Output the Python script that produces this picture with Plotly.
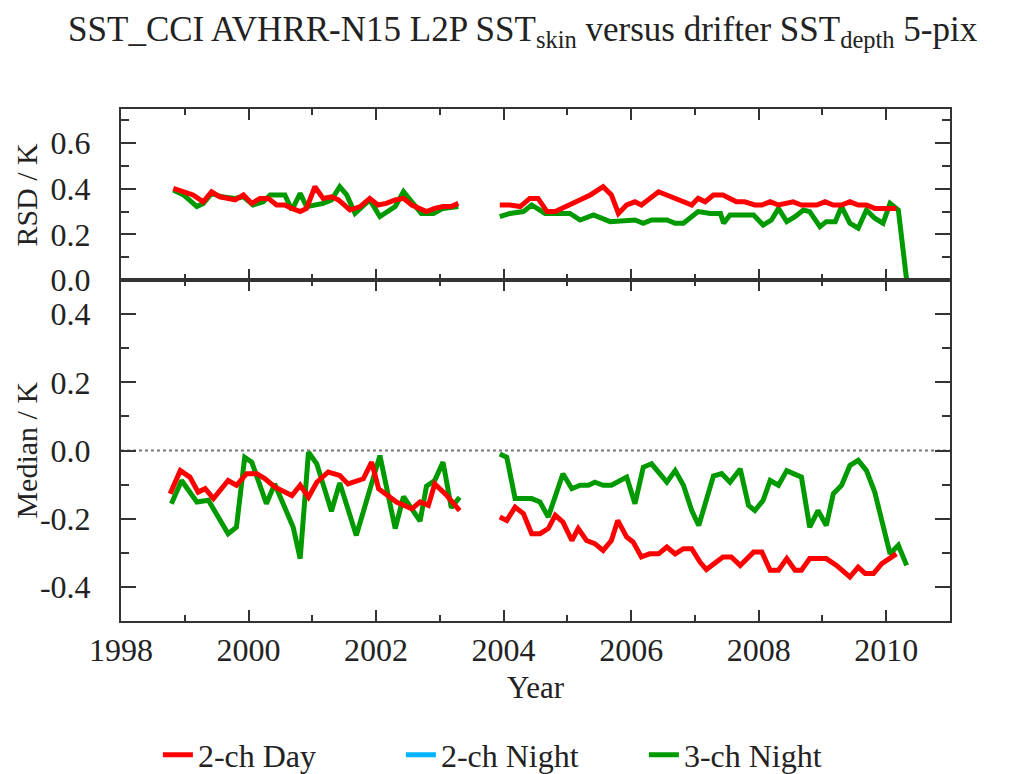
import plotly.graph_objects as go
from plotly.subplots import make_subplots

# ---- RSD (top panel), decimal year vs K ----
rsd_day_1_t = [1998.82, 1998.98, 1999.13, 1999.29, 1999.42, 1999.55, 1999.79, 1999.92, 2000.05, 2000.18,
               2000.31, 2000.44, 2000.57, 2000.68, 2000.81, 2000.91, 2001.04, 2001.17, 2001.30, 2001.41,
               2001.59, 2001.75, 2001.90, 2002.03, 2002.16, 2002.30, 2002.43, 2002.56, 2002.79, 2002.92,
               2003.05, 2003.18, 2003.29]
rsd_day_1_v = [0.402, 0.387, 0.373, 0.343, 0.387, 0.365, 0.351, 0.373, 0.336, 0.358,
               0.358, 0.329, 0.329, 0.314, 0.300, 0.314, 0.409, 0.358, 0.365, 0.351,
               0.307, 0.322, 0.358, 0.329, 0.336, 0.351, 0.358, 0.329, 0.300, 0.314,
               0.322, 0.322, 0.336]
rsd_day_2_t = [2003.94, 2004.10, 2004.26, 2004.41, 2004.54, 2004.68, 2004.81, 2005.09, 2005.36, 2005.56,
               2005.69, 2005.80, 2005.93, 2006.06, 2006.16, 2006.43, 2006.95, 2007.05, 2007.16, 2007.29,
               2007.44, 2007.65, 2007.78, 2007.94, 2008.05, 2008.18, 2008.31, 2008.54, 2008.67, 2008.91,
               2009.04, 2009.17, 2009.30, 2009.43, 2009.56, 2009.69, 2009.82, 2009.95, 2010.16]
rsd_day_2_v = [0.329, 0.329, 0.322, 0.358, 0.358, 0.300, 0.300, 0.336, 0.373, 0.409,
               0.373, 0.292, 0.329, 0.343, 0.329, 0.387, 0.329, 0.358, 0.343, 0.373,
               0.373, 0.343, 0.343, 0.329, 0.329, 0.343, 0.329, 0.343, 0.329, 0.329,
               0.343, 0.329, 0.329, 0.343, 0.329, 0.329, 0.314, 0.314, 0.314]

rsd_n3_1_t = [1998.82, 1998.98, 1999.19, 1999.29, 1999.42, 1999.58, 1999.79, 1999.92, 2000.07, 2000.23,
              2000.34, 2000.57, 2000.68, 2000.81, 2000.91, 2001.17, 2001.30, 2001.43, 2001.54, 2001.67,
              2001.90, 2002.06, 2002.30, 2002.43, 2002.56, 2002.71, 2002.90, 2003.05, 2003.29]
rsd_n3_1_v = [0.395, 0.373, 0.322, 0.336, 0.380, 0.365, 0.358, 0.365, 0.329, 0.343,
              0.373, 0.373, 0.307, 0.380, 0.322, 0.336, 0.351, 0.409, 0.373, 0.292,
              0.351, 0.278, 0.322, 0.387, 0.343, 0.292, 0.292, 0.314, 0.322]
rsd_n3_2_t = [2003.94, 2004.10, 2004.31, 2004.44, 2004.65, 2005.04, 2005.20, 2005.41, 2005.67, 2005.90,
              2006.06, 2006.19, 2006.32, 2006.56, 2006.69, 2006.82, 2007.05, 2007.24, 2007.40, 2007.45,
              2007.55, 2007.92, 2008.07, 2008.20, 2008.31, 2008.44, 2008.57, 2008.70, 2008.80, 2008.96,
              2009.06, 2009.20, 2009.30, 2009.43, 2009.56, 2009.69, 2009.82, 2009.95, 2010.06, 2010.19,
              2010.32]
rsd_n3_2_v = [0.278, 0.292, 0.300, 0.329, 0.292, 0.292, 0.263, 0.285, 0.256, 0.263,
              0.263, 0.249, 0.263, 0.263, 0.249, 0.249, 0.300, 0.292, 0.292, 0.249,
              0.285, 0.285, 0.241, 0.263, 0.314, 0.256, 0.278, 0.307, 0.300, 0.234,
              0.256, 0.256, 0.322, 0.249, 0.227, 0.307, 0.271, 0.249, 0.336, 0.307,
              0.0]

# ---- Median (bottom panel), decimal year vs K ----
med_day_1_t = [1998.77, 1998.93, 1999.08, 1999.21, 1999.32, 1999.45, 1999.68, 1999.81, 1999.97, 2000.13,
               2000.26, 2000.41, 2000.68, 2000.81, 2000.94, 2001.07, 2001.25, 2001.43, 2001.56, 2001.80,
               2001.93, 2002.04, 2002.32, 2002.56, 2002.69, 2002.82, 2002.92, 2003.11, 2003.31]
med_day_1_v = [-0.127, -0.059, -0.078, -0.122, -0.112, -0.141, -0.088, -0.102, -0.068, -0.068,
               -0.083, -0.107, -0.132, -0.102, -0.137, -0.093, -0.063, -0.073, -0.098, -0.083,
               -0.034, -0.112, -0.151, -0.171, -0.151, -0.161, -0.098, -0.132, -0.176]
med_day_2_t = [2003.94, 2004.05, 2004.18, 2004.31, 2004.44, 2004.57, 2004.70, 2004.81, 2004.93, 2005.07,
               2005.17, 2005.30, 2005.43, 2005.56, 2005.69, 2005.79, 2005.93, 2006.03, 2006.16, 2006.29,
               2006.43, 2006.56, 2006.69, 2006.82, 2006.95, 2007.08, 2007.18, 2007.44, 2007.57, 2007.71,
               2007.92, 2008.05, 2008.18, 2008.31, 2008.44, 2008.57, 2008.67, 2008.80, 2009.06, 2009.22,
               2009.43, 2009.56, 2009.67, 2009.80, 2009.93, 2010.06, 2010.16]
med_day_2_v = [-0.195, -0.205, -0.166, -0.185, -0.244, -0.244, -0.229, -0.190, -0.210, -0.264,
               -0.229, -0.264, -0.273, -0.293, -0.264, -0.205, -0.254, -0.268, -0.312, -0.303,
               -0.303, -0.283, -0.303, -0.288, -0.288, -0.327, -0.349, -0.312, -0.312, -0.337,
               -0.298, -0.298, -0.351, -0.351, -0.317, -0.351, -0.351, -0.317, -0.317, -0.337,
               -0.371, -0.342, -0.361, -0.361, -0.332, -0.317, -0.303]

med_n3_1_t = [1998.79, 1998.95, 1999.19, 1999.37, 1999.68, 1999.81, 1999.94, 2000.05, 2000.28, 2000.41,
              2000.60, 2000.70, 2000.81, 2000.94, 2001.07, 2001.30, 2001.43, 2001.69, 2002.06, 2002.30,
              2002.43, 2002.69, 2002.79, 2002.92, 2003.05, 2003.18, 2003.31]
med_n3_1_v = [-0.156, -0.088, -0.151, -0.146, -0.244, -0.225, -0.020, -0.034, -0.156, -0.098,
              -0.181, -0.225, -0.317, -0.005, -0.039, -0.178, -0.095, -0.249, -0.015, -0.229,
              -0.135, -0.207, -0.105, -0.088, -0.034, -0.168, -0.137]
med_n3_2_t = [2003.94, 2004.05, 2004.18, 2004.44, 2004.57, 2004.70, 2004.93, 2005.07, 2005.20, 2005.33,
              2005.43, 2005.56, 2005.69, 2005.93, 2006.06, 2006.19, 2006.32, 2006.56, 2006.69, 2006.82,
              2006.95, 2007.06, 2007.29, 2007.42, 2007.55, 2007.71, 2007.84, 2007.94, 2008.07, 2008.18,
              2008.31, 2008.44, 2008.67, 2008.80, 2008.93, 2009.06, 2009.17, 2009.30, 2009.43, 2009.56,
              2009.69, 2009.82, 2010.06, 2010.19, 2010.32]
med_n3_2_v = [-0.010, -0.020, -0.141, -0.141, -0.151, -0.195, -0.068, -0.112, -0.102, -0.102,
              -0.093, -0.102, -0.102, -0.078, -0.156, -0.049, -0.039, -0.093, -0.059, -0.102,
              -0.176, -0.220, -0.075, -0.068, -0.093, -0.054, -0.161, -0.176, -0.146, -0.088,
              -0.102, -0.059, -0.078, -0.225, -0.176, -0.220, -0.127, -0.102, -0.044, -0.029,
              -0.059, -0.122, -0.303, -0.278, -0.337]

series_names = ["2-ch Day", "2-ch Night", "3-ch Night"]
series_colors = ["#ff0000", "#00b4ff", "#009a00"]
panel_titles = ["RSD / K", "Median / K"]

FONT = "Liberation Serif"
INK = "#222222"
AXIS = "#333333"
LW = 5

fig = make_subplots(rows=2, cols=1, shared_xaxes=True, vertical_spacing=0,
                    row_heights=[171, 341])


def add_line(t, v, row, color, name):
    fig.add_trace(go.Scatter(x=t, y=v, mode="lines", name=name, legendgroup=name,
                             showlegend=False, line=dict(color=color, width=LW)),
                  row=row, col=1)


# 3-ch Night drawn first so 2-ch Day sits on top
add_line(rsd_n3_1_t, rsd_n3_1_v, 1, series_colors[2], series_names[2])
add_line(rsd_n3_2_t, rsd_n3_2_v, 1, series_colors[2], series_names[2])
add_line(med_n3_1_t, med_n3_1_v, 2, series_colors[2], series_names[2])
add_line(med_n3_2_t, med_n3_2_v, 2, series_colors[2], series_names[2])
add_line(rsd_day_1_t, rsd_day_1_v, 1, series_colors[0], series_names[0])
add_line(rsd_day_2_t, rsd_day_2_v, 1, series_colors[0], series_names[0])
add_line(med_day_1_t, med_day_1_v, 2, series_colors[0], series_names[0])
add_line(med_day_2_t, med_day_2_v, 2, series_colors[0], series_names[0])

# legend entries (2-ch Night has no valid samples)
for name, color in zip(series_names, series_colors):
    fig.add_trace(go.Scatter(x=[None], y=[None], mode="lines", name=name, legendgroup=name,
                             line=dict(color=color, width=LW), showlegend=True),
                  row=2, col=1)

# zero reference in the median panel
fig.add_shape(type="line", xref="x2 domain", yref="y2", x0=0, x1=1, y0=0, y1=0,
              line=dict(color="#777777", width=2, dash="dot"), layer="below")

# panel y titles, aligned in one column left of the tick labels
for i, (title, yref) in enumerate(zip(panel_titles, ["y domain", "y2 domain"])):
    fig.add_annotation(text=title, textangle=-90, xref="paper", x=-0.1145, xanchor="center",
                       yref=yref, y=0.5, yanchor="middle", showarrow=False,
                       font=dict(family=FONT, size=30, color=INK))

axis_common = dict(showline=True, linecolor=AXIS, linewidth=2, mirror="allticks",
                   ticks="inside", tickcolor=AXIS, tickwidth=2, showgrid=False,
                   zeroline=False, tickfont=dict(family=FONT, size=32, color=INK))
minor_y = dict(dtick=0.1, tick0=0, ticklen=8, ticks="inside",
               tickcolor=AXIS, tickwidth=2, showgrid=False)

fig.update_xaxes(range=[1998, 2011], dtick=2, tick0=1998, ticklen=11,
                 minor=dict(dtick=1, tick0=1998, ticklen=6, ticks="inside",
                            tickcolor=AXIS, tickwidth=2, showgrid=False),
                 **axis_common)
fig.update_xaxes(showticklabels=False, row=1, col=1)
fig.update_xaxes(ticklabelstandoff=0,
                 title=dict(text="Year", font=dict(family=FONT, size=31, color=INK), standoff=9),
                 row=2, col=1)

fig.update_yaxes(range=[0, 0.75], tickvals=[0.0, 0.2, 0.4, 0.6],
                 ticktext=["0.0", "0.2", "0.4", "0.6"], ticklen=15, minor=minor_y,
                 ticklabelstandoff=22, row=1, col=1, **axis_common)
fig.update_yaxes(range=[-0.5, 0.5], tickvals=[-0.4, -0.2, 0.0, 0.2, 0.4],
                 ticktext=["-0.4", "-0.2", "0.0", "0.2", "0.4"], ticklen=15, minor=minor_y,
                 ticklabelstandoff=22, row=2, col=1, **axis_common)

fig.update_layout(
    width=1011, height=774,
    margin=dict(l=121, r=61, t=109, b=153),
    paper_bgcolor="white", plot_bgcolor="white",
    title=dict(text="SST_CCI AVHRR-N15 L2P SST<sub>skin</sub> versus drifter SST<sub>depth</sub> 5-pix",
               x=0.517, xanchor="center", y=0.963, yanchor="middle",
               font=dict(family=FONT, size=35, color=INK)),
    legend=dict(orientation="h", xref="paper", yref="container",
                x=0.0445, xanchor="left", y=0.0245, yanchor="middle",
                font=dict(family=FONT, size=32, color=INK),
                entrywidth=198, entrywidthmode="pixels", bgcolor="rgba(0,0,0,0)"),
    showlegend=True,
)

fig.write_html("out.html")
